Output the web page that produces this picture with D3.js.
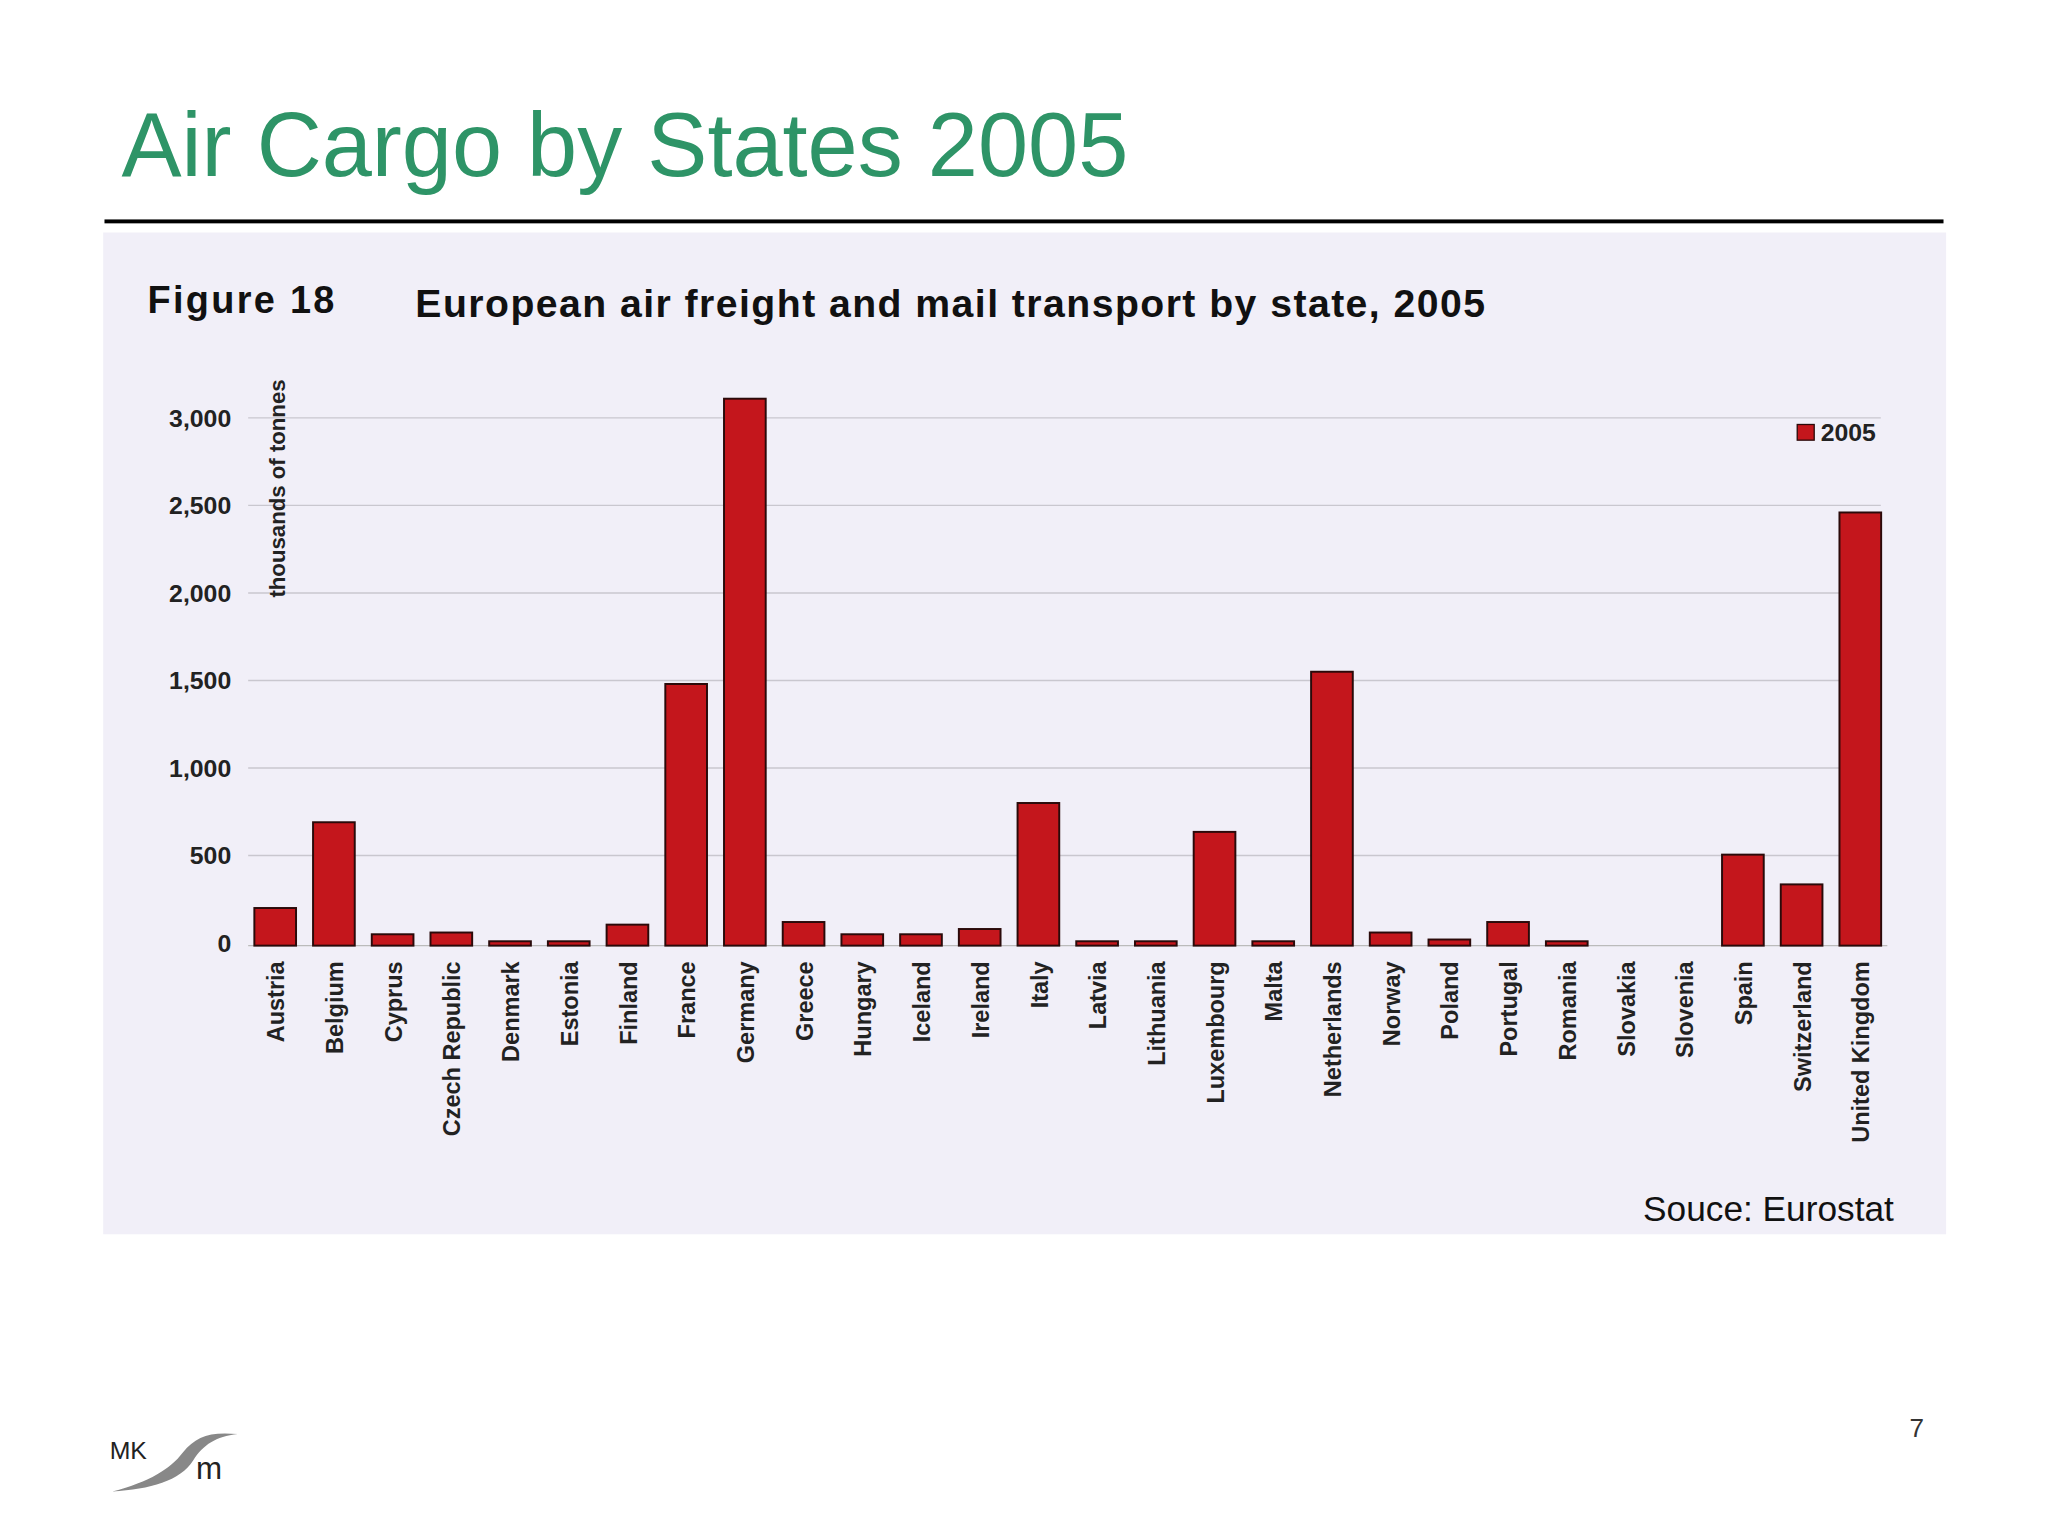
<!DOCTYPE html><html><head><meta charset="utf-8"><script src="https://cdn.jsdelivr.net/npm/d3@7"></script>
<style>body{margin:0;background:#fff}</style></head><body><svg id="c" width="2048" height="1536" viewBox="0 0 1568 1176"></svg>
<script>
const categories=["Austria","Belgium","Cyprus","Czech Republic","Denmark","Estonia","Finland","France","Germany","Greece","Hungary","Iceland","Ireland","Italy","Latvia","Lithuania","Luxembourg","Malta","Netherlands","Norway","Poland","Portugal","Romania","Slovakia","Slovenia","Spain","Switzerland","United Kingdom"];
const values2005=[200,690,50,60,10,10,105,1480,3110,120,50,50,80,800,10,10,635,10,1550,60,20,120,10,0,0,505,335,2460];
const yTicks=[0,500,1000,1500,2000,2500,3000];
const svg=d3.select("#c");
const F="Liberation Sans, Arial, sans-serif";
svg.append("text").attr("x",93).attr("y",135).attr("font-family",F).attr("font-size",69).attr("fill","#2e9467").text("Air Cargo by States 2005");
svg.append("rect").attr("x",80).attr("y",168).attr("width",1408).attr("height",3).attr("fill","#000");
svg.append("rect").attr("x",79).attr("y",178).attr("width",1411).attr("height",767).attr("fill","#f1eff8");
svg.append("text").attr("x",113).attr("y",240).attr("font-family",F).attr("font-weight","bold").attr("font-size",29).attr("textLength",143).attr("fill","#111").text("Figure 18");
svg.append("text").attr("x",318).attr("y",243).attr("font-family",F).attr("font-weight","bold").attr("font-size",30).attr("textLength",819).attr("fill","#111").text("European air freight and mail transport by state, 2005");
const x=d3.scaleBand().domain(categories).range([188,1447]).paddingInner(0.29).paddingOuter(0.15);
const y=d3.scaleLinear().domain([0,3000]).range([722,320]);
const g=svg.append("g");
g.selectAll("line.g").data(yTicks.slice(1)).join("line").attr("x1",190).attr("x2",1440).attr("y1",d=>y(d)).attr("y2",d=>y(d)).attr("stroke","#c9c7cf").attr("stroke-width",1);
const ax=d3.axisLeft(y).tickValues(yTicks).tickFormat(d3.format(",")).tickSize(0).tickPadding(0);
const ag=svg.append("g").attr("transform","translate(177,0)").call(ax);
ag.select(".domain").remove();
ag.selectAll("text").attr("font-family",F).attr("font-weight","bold").attr("font-size",19).attr("fill","#222");
svg.append("text").attr("transform","translate(218,374) rotate(-90)").attr("text-anchor","middle").attr("font-family",F).attr("font-weight","bold").attr("font-size",17).attr("fill","#222").text("thousands of tonnes");
svg.append("line").attr("x1",190).attr("x2",1445).attr("y1",y(0)+2).attr("y2",y(0)+2).attr("stroke","#bbb");
svg.selectAll("rect.b").data(values2005).join("rect").attr("x",(d,i)=>x(categories[i])).attr("width",x.bandwidth())
 .attr("y",d=>y(d)).attr("height",d=>Math.max(0,y(0)-y(d))+(d>0?2:0)).attr("fill","#c4161c").attr("stroke",d=>d>0?"#2a0a0a":"none").attr("stroke-width",1.5);
svg.selectAll("text.c").data(categories).join("text").attr("transform",d=>`translate(${x(d)+x.bandwidth()/2+7},736) rotate(-90)`)
 .attr("text-anchor","end").attr("font-family",F).attr("font-weight","bold").attr("font-size",18).attr("fill","#222").text(d=>d);
svg.append("rect").attr("x",1376).attr("y",325).attr("width",13).attr("height",12).attr("fill","#c4161c").attr("stroke","#2a0a0a");
svg.append("text").attr("x",1394).attr("y",338).attr("font-family",F).attr("font-weight","bold").attr("font-size",19).attr("fill","#222").text("2005");
svg.append("text").attr("x",1450).attr("y",935).attr("text-anchor","end").attr("font-family",F).attr("font-size",27).attr("fill","#111").text("Souce: Eurostat");
svg.append("text").attr("x",1473).attr("y",1100).attr("text-anchor","end").attr("font-family",F).attr("font-size",20).attr("fill","#333").text("7");
svg.append("text").attr("x",84).attr("y",1117).attr("font-family",F).attr("font-size",19).attr("fill","#222").text("MK");
svg.append("text").attr("x",150).attr("y",1132).attr("font-family",F).attr("font-size",24).attr("fill","#222").text("m");
svg.append("path").attr("d","M86,1142 C115,1134 130,1125 140,1112 C150,1100 160,1096 182,1098 C165,1100 156,1106 148,1118 C138,1134 115,1140 86,1142Z").attr("fill","#888");
</script></body></html>
